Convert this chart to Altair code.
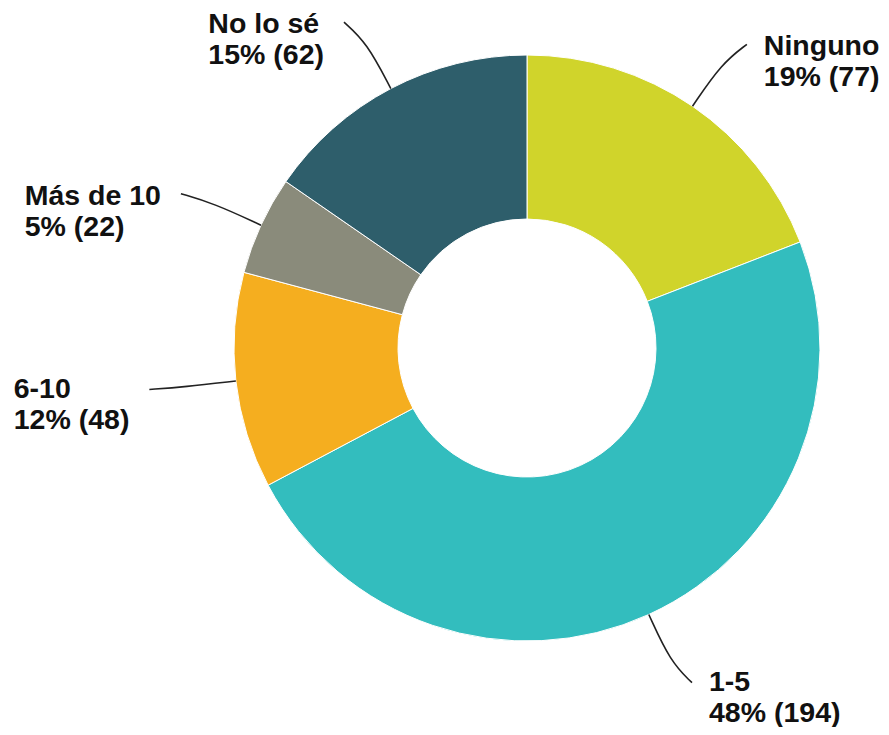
import math
import altair as alt
import pandas as pd

# ---- data ----
categories = ["Ninguno", "1-5", "6-10", "Más de 10", "No lo sé"]
counts = [77, 194, 48, 22, 62]
colors = ["#D0D42B", "#33BDBE", "#F5AE1F", "#8A8B7B", "#2E5E6B"]

# ---- layout ----
W, H = 873, 719
CX, CY = 519, 340
R_OUT, R_IN = 293, 129
R_CTRL, R_END, HOOK = 345, 368, 12
FONT, LINE_H = 28.5, 31
GAP_R, GAP_L = 17, 20

# approximate Arial/Liberation Sans Bold advance widths (em)
_w = {"%": .889, " ": .278, "(": .333, ")": .333, "-": .333, "N": .722, "M": .833,
      "o": .611, "l": .278, "s": .556, "é": .556, "á": .556, "d": .611, "e": .556,
      "i": .278, "n": .611, "g": .611, "u": .611}


def text_w(s):
    return sum(_w.get(ch, .556) for ch in s) * FONT


total = sum(counts)
rows, line_rows, text_rows = [], [], []
acc = 0
for k, (cat, c) in enumerate(zip(categories, counts)):
    p = round(100 * c / total)
    rows.append({"cat": cat, "count": c, "idx": k})
    mid = (acc + c / 2) / total * 2 * math.pi
    acc += c
    s, co = math.sin(mid), math.cos(mid)
    side = 1 if s >= 0 else -1
    p0 = (CX + R_OUT * s, CY - R_OUT * co)
    p1 = (CX + R_CTRL * s, CY - R_CTRL * co)
    p2 = (CX + R_END * s + side * HOOK, CY - R_END * co)
    for i, (x, y) in enumerate([p0, p1, p2]):
        line_rows.append({"cat": cat, "i": i, "x": x, "y": y})
    l1, l2 = cat, f"{p}% ({c})"
    bw = max(text_w(l1), text_w(l2))
    tx = p2[0] + GAP_R if side > 0 else p2[0] - GAP_L - bw
    base_dy = 11 if co > 0 else 8
    text_rows.append({"cat": cat, "label": l1 + "\n" + l2, "tx": tx, "ty": p2[1] + base_dy})

df = pd.DataFrame(rows)
ldf = pd.DataFrame(line_rows)
tdf = pd.DataFrame(text_rows)

arcs = alt.Chart(df).mark_arc(
    outerRadius=R_OUT, innerRadius=R_IN, stroke="white", strokeWidth=1
).encode(
    theta=alt.Theta("count:Q", stack=True),
    color=alt.Color("cat:N", scale=alt.Scale(domain=categories, range=colors), legend=None),
    order=alt.Order("idx:Q"),
    x=alt.value(CX),
    y=alt.value(CY),
)

lines = alt.Chart(ldf).mark_line(
    interpolate="basis", color="#222222", strokeWidth=1.6
).encode(
    x=alt.X("x:Q", scale=None, axis=None),
    y=alt.Y("y:Q", scale=None, axis=None),
    detail="cat:N",
    order="i:Q",
)

labels = alt.Chart(tdf).mark_text(
    align="left", baseline="alphabetic", font="Liberation Sans", fontWeight="bold",
    fontSize=FONT, lineHeight=LINE_H, lineBreak="\n", color="#111111"
).encode(
    x=alt.X("tx:Q", scale=None, axis=None),
    y=alt.Y("ty:Q", scale=None, axis=None),
    text="label:N",
)

chart = alt.layer(arcs, lines, labels).properties(
    width=W, height=H, padding=0, autosize=alt.AutoSizeParams(type="none")
).configure_view(stroke=None)

chart.save("out.html", embed_options={"renderer": "svg", "actions": False})
